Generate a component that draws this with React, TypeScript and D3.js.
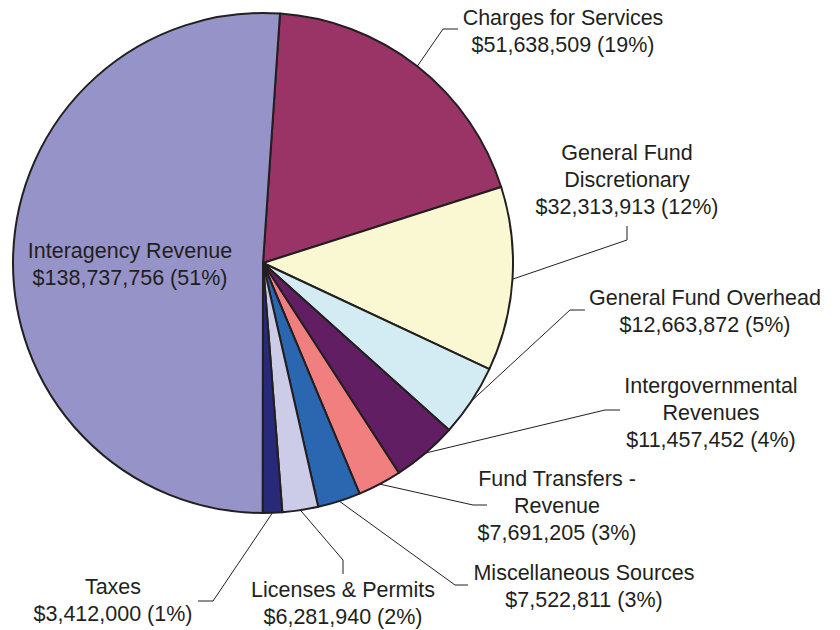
import React, { useEffect, useRef } from "react";
import * as d3 from "d3";

// revenue sources, in drawing order (clockwise from just right of 12 o'clock)
const categories = [
  "Charges for Services",
  "General Fund Discretionary",
  "General Fund Overhead",
  "Intergovernmental Revenues",
  "Fund Transfers - Revenue",
  "Miscellaneous Sources",
  "Licenses & Permits",
  "Taxes",
  "Interagency Revenue",
];
const amounts = [51638509, 32313913, 12663872, 11457452, 7691205, 7522811, 6281940, 3412000, 138737756];
const percents = [19, 12, 5, 4, 3, 3, 2, 1, 51];
// label text lines (the amount line is added from the arrays above)
const labelLines = [
  ["Charges for Services"],
  ["General Fund", "Discretionary"],
  ["General Fund Overhead"],
  ["Intergovernmental", "Revenues"],
  ["Fund Transfers -", "Revenue"],
  ["Miscellaneous Sources"],
  ["Licenses & Permits"],
  ["Taxes"],
  ["Interagency Revenue"],
];
const colors = ["#9b3466", "#faf8d2", "#d3ecf3", "#621e62", "#f17f80", "#2a67b0", "#cdcce8", "#29297a", "#9593c8"];

// where each label sits: text centre x, first baseline, leader bend + end
const labelLayout = [
  { x: 563, y: 25, bend: [443, 29], end: [458, 29] },
  { x: 627, y: 160, bend: [627, 240], end: [627, 226] },
  { x: 705, y: 305, bend: [570, 310], end: [585, 310] },
  { x: 711, y: 393, bend: [605, 410], end: [620, 410] },
  { x: 557, y: 486, bend: [473, 505], end: [487, 505] },
  { x: 584, y: 580, bend: [455, 585], end: [468, 585] },
  { x: 343, y: 597, bend: [343, 560], end: [343, 574] },
  { x: 113, y: 594, bend: [213, 601], end: [198, 601] },
  { x: 130, y: 258, bend: null, end: null },
];

export default function App() {
  const ref = useRef<SVGSVGElement>(null);

  useEffect(() => {
    const svg = d3.select(ref.current);
    svg.selectAll("*").remove();

    const cx = 263, cy = 263, r = 250;
    const lineH = 27;
    const fmt = d3.format("$,");

    const data = categories.map((c, i) => ({ name: c, value: amounts[i], i }));
    const start = 0.068;
    const pie = d3.pie<any>().sort(null).value((d) => d.value)
      .startAngle(start).endAngle(start + 2 * Math.PI);
    const arcs = pie(data);
    const arc = d3.arc<any>().innerRadius(0).outerRadius(r);

    const g = svg.append("g").attr("transform", `translate(${cx},${cy})`);
    g.selectAll("path").data(arcs).join("path")
      .attr("d", arc)
      .attr("fill", (d) => colors[d.data.i])
      .attr("stroke", "#231f20")
      .attr("stroke-width", 2)
      .attr("stroke-linejoin", "round");

    // leader lines
    arcs.forEach((a) => {
      const lay = labelLayout[a.data.i];
      if (!lay.bend) return;
      const mid = (a.startAngle + a.endAngle) / 2;
      const p0: [number, number] = [cx + r * Math.sin(mid), cy - r * Math.cos(mid)];
      svg.append("path")
        .attr("d", d3.line()([p0, lay.bend as [number, number], lay.end as [number, number]]))
        .attr("fill", "none")
        .attr("stroke", "#231f20")
        .attr("stroke-width", 1);
    });

    // labels
    arcs.forEach((a) => {
      const i = a.data.i;
      const lay = labelLayout[i];
      const lines = [...labelLines[i], `${fmt(amounts[i])} (${percents[i]}%)`];
      const t = svg.append("text")
        .attr("text-anchor", "middle")
        .attr("font-family", "'Liberation Sans', Arial, sans-serif")
        .attr("font-size", 21.5)
        .attr("fill", "#231f20");
      lines.forEach((l, k) => {
        t.append("tspan").attr("x", lay.x).attr("y", lay.y + k * lineH).text(l);
      });
    });
  }, []);

  return (
    <svg
      ref={ref}
      width={840}
      height={630}
      style={{ position: "absolute", left: 0, top: 0, background: "#fff" }}
    />
  );
}
